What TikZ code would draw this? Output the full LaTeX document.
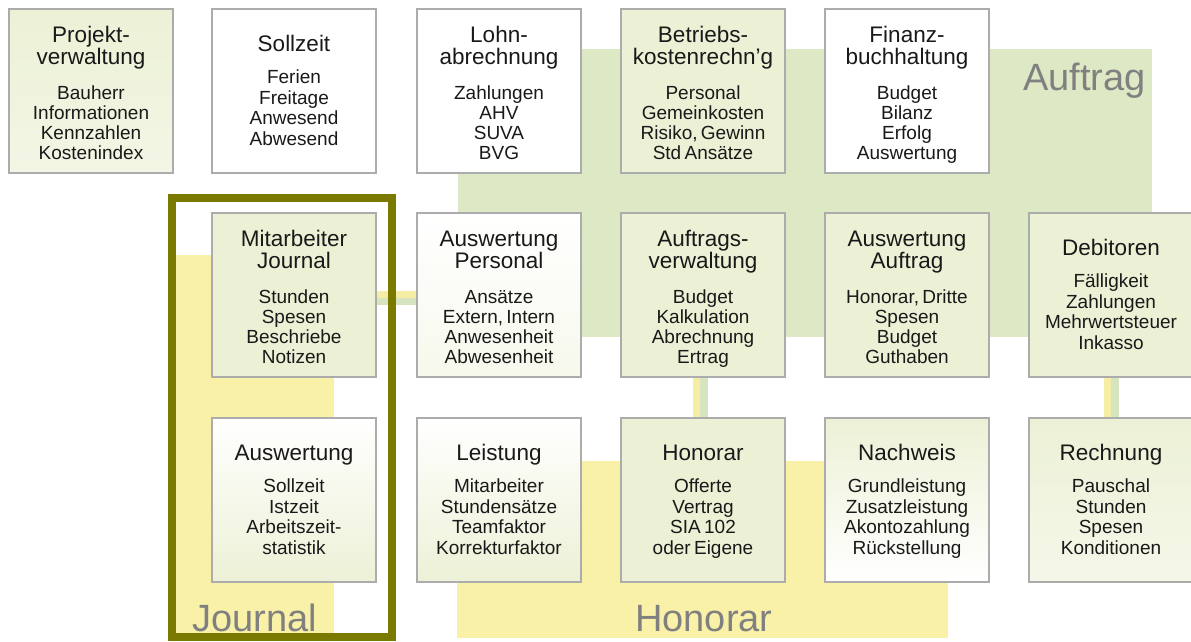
\documentclass[tikz,border=0pt]{standalone}
\usepackage{fontspec}
\setmainfont{Liberation Sans}
\usetikzlibrary{shadows}
\definecolor{bggreen}{RGB}{221,233,196}
\definecolor{bgyellow}{RGB}{249,241,168}
\definecolor{boxgreen}{RGB}{236,241,214}
\definecolor{framecol}{RGB}{122,122,0}
\definecolor{lblgray}{RGB}{128,128,128}
\definecolor{bordergray}{RGB}{172,172,172}
\definecolor{txt}{RGB}{25,25,25}
\definecolor{connyellow}{RGB}{246,238,165}
\definecolor{conngreen}{RGB}{214,228,192}
% two-line title
\newcommand{\boxtext}[2]{{\fontsize{22.5}{22.5}\selectfont\rule{0pt}{24.1pt}#1\par}\vspace{14pt}{\fontsize{19}{20.2}\selectfont #2\rule[-4.2pt]{0pt}{4.2pt}\par}}
% one-line title
\newcommand{\boxtextone}[2]{{\fontsize{22.5}{22.5}\selectfont\rule{0pt}{18.6pt}#1\par}\vspace{12pt}{\fontsize{19}{20.4}\selectfont #2\rule[-4.2pt]{0pt}{4.2pt}\par}}
\tikzset{
  infobox/.style={draw=bordergray, line width=1.2pt, minimum width=164pt, minimum height=164pt,
    text width=162pt, align=center, inner sep=0pt, text=txt,
    drop shadow={shadow xshift=1.2pt, shadow yshift=-1.2pt, opacity=0.22}},
  gbox/.style={infobox, fill=boxgreen},
  wbox/.style={infobox, fill=white},
  areaname/.style={font=\fontsize{38}{38}\selectfont, text=lblgray, inner sep=0pt},
  yconn/.style={draw=connyellow, line width=7.5pt},
  gconn/.style={draw=conngreen, line width=7.5pt}
}
\begin{document}
\begin{tikzpicture}[x=1pt, y=-1pt]
\useasboundingbox (0,0) rectangle (1191,641);
\fill[white] (0,0) rectangle (1191,641);
% background areas
\fill[bggreen] (458,49) rectangle (1152,337);
\fill[bgyellow] (457,461) rectangle (948,638);
\fill[bgyellow] (176,255) rectangle (334,633);

% row 1
\node[infobox, top color=boxgreen, bottom color=boxgreen!65] (pv) at (91,91) {\boxtext{Projekt-\\verwaltung}{Bauherr\\Informationen\\Kennzahlen\\Kostenindex}};
\node[wbox] (sz) at (294,91) {\boxtextone{Sollzeit}{Ferien\\Freitage\\Anwesend\\Abwesend}};
\node[wbox] (la) at (499,91) {\boxtext{Lohn-\\abrechnung}{Zahlungen\\AHV\\SUVA\\BVG}};
\node[gbox] (bk) at (703,91) {\boxtext{Betriebs-\\kostenrechn'g}{Personal\\Gemeinkosten\\Risiko, Gewinn\\Std Ansätze}};
\node[wbox] (fb) at (907,91) {\boxtext{Finanz-\\buchhaltung}{Budget\\Bilanz\\Erfolg\\Auswertung}};

% row 2
\node[gbox] (mj) at (294,295) {\boxtext{Mitarbeiter\\Journal}{Stunden\\Spesen\\Beschriebe\\Notizen}};
\node[infobox, top color=white, bottom color=boxgreen!45] (ap) at (499,295) {\boxtext{Auswertung\\Personal}{Ansätze\\Extern, Intern\\Anwesenheit\\Abwesenheit}};
\node[gbox] (av) at (703,295) {\boxtext{Auftrags-\\verwaltung}{Budget\\Kalkulation\\Abrechnung\\Ertrag}};
\node[gbox] (aa) at (907,295) {\boxtext{Auswertung\\Auftrag}{Honorar, Dritte\\Spesen\\Budget\\Guthaben}};
\node[gbox] (db) at (1111,295) {\boxtextone{Debitoren}{Fälligkeit\\Zahlungen\\Mehrwertsteuer\\Inkasso}};

% row 3
\node[infobox, top color=white, bottom color=boxgreen] (aw) at (294,500) {\boxtextone{Auswertung}{Sollzeit\\Istzeit\\Arbeitszeit-\\statistik}};
\node[infobox, top color=white, bottom color=boxgreen] (ls) at (499,500) {\boxtextone{Leistung}{Mitarbeiter\\Stundensätze\\Teamfaktor\\Korrekturfaktor}};
\node[gbox] (ho) at (703,500) {\boxtextone{Honorar}{Offerte\\Vertrag\\SIA 102\\oder Eigene}};
\node[infobox, top color=boxgreen, bottom color=white] (nw) at (907,500) {\boxtextone{Nachweis}{Grundleistung\\Zusatzleistung\\Akontozahlung\\Rückstellung}};
\node[infobox, top color=boxgreen, bottom color=boxgreen!55] (re) at (1111,500) {\boxtextone{Rechnung}{Pauschal\\Stunden\\Spesen\\Konditionen}};

% connectors
\draw[yconn] (mj.east) -- (ap.west);
\draw[gconn] ([yshift=-6.5pt]mj.east) -- ([yshift=-6.5pt]ap.west);
\draw[yconn] ([xshift=-6.5pt]av.south) -- ([xshift=-6.5pt]ho.north);
\draw[gconn] ([xshift=1pt]av.south) -- ([xshift=1pt]ho.north);
\draw[yconn] ([xshift=-3.5pt]db.south) -- ([xshift=-3.5pt]re.north);
\draw[gconn] ([xshift=4pt]db.south) -- ([xshift=4pt]re.north);

% journal frame
\draw[framecol, line width=8pt] (172,197.5) rectangle (392,636.5);

% area names
\node[areaname, anchor=base east] (nAuftrag) at (1146,90) {Auftrag};
\node[areaname, anchor=base west] (nJournal) at (192,631) {Journal};
\node[areaname, anchor=base west] (nHonorar) at (635,631) {Honorar};
\end{tikzpicture}
\end{document}
